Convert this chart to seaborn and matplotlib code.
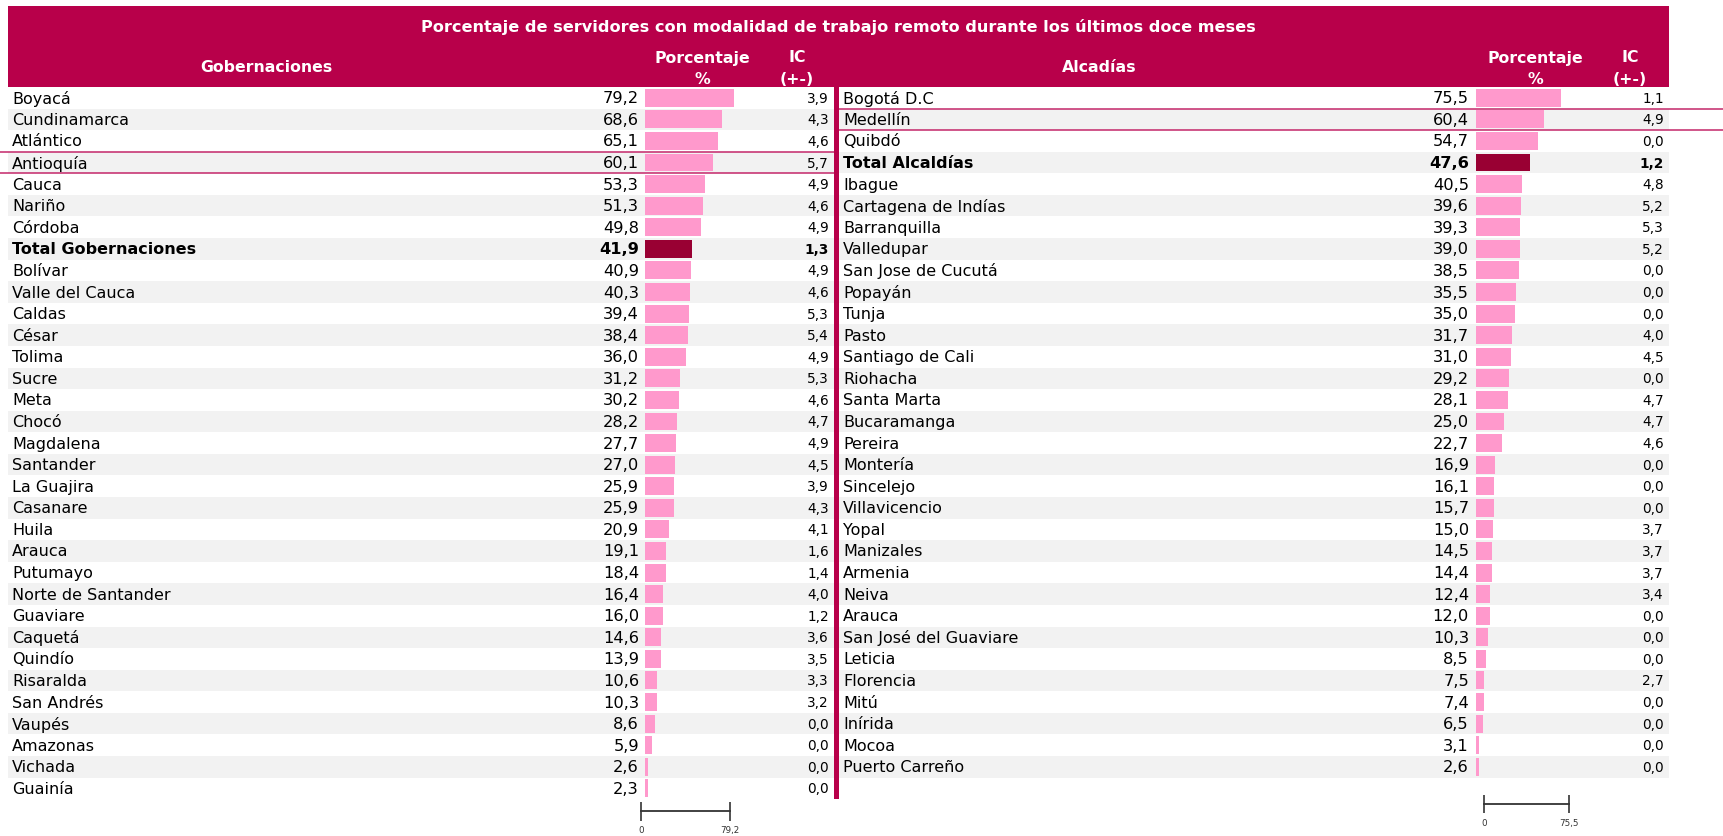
import matplotlib
matplotlib.use('Agg')
import matplotlib.pyplot as plt
import matplotlib.transforms as mtransforms
from matplotlib.patches import Rectangle
import seaborn as sns
import pandas as pd

W, H = 1723, 837

titulo = "Porcentaje de servidores con modalidad de trabajo remoto durante los últimos doce meses"

# Gobernaciones
gob_nombres = ["Boyacá", "Cundinamarca", "Atlántico", "Antioquía", "Cauca", "Nariño", "Córdoba",
               "Total Gobernaciones", "Bolívar", "Valle del Cauca", "Caldas", "César", "Tolima",
               "Sucre", "Meta", "Chocó", "Magdalena", "Santander", "La Guajira", "Casanare",
               "Huila", "Arauca", "Putumayo", "Norte de Santander", "Guaviare", "Caquetá",
               "Quindío", "Risaralda", "San Andrés", "Vaupés", "Amazonas", "Vichada", "Guainía"]
gob_pct = [79.2, 68.6, 65.1, 60.1, 53.3, 51.3, 49.8, 41.9, 40.9, 40.3, 39.4, 38.4, 36.0,
           31.2, 30.2, 28.2, 27.7, 27.0, 25.9, 25.9, 20.9, 19.1, 18.4, 16.4, 16.0, 14.6,
           13.9, 10.6, 10.3, 8.6, 5.9, 2.6, 2.3]
gob_ic = [3.9, 4.3, 4.6, 5.7, 4.9, 4.6, 4.9, 1.3, 4.9, 4.6, 5.3, 5.4, 4.9,
          5.3, 4.6, 4.7, 4.9, 4.5, 3.9, 4.3, 4.1, 1.6, 1.4, 4.0, 1.2, 3.6,
          3.5, 3.3, 3.2, 0.0, 0.0, 0.0, 0.0]

# Alcaldías
alc_nombres = ["Bogotá D.C", "Medellín", "Quibdó", "Total Alcaldías", "Ibague", "Cartagena de Indías",
               "Barranquilla", "Valledupar", "San Jose de Cucutá", "Popayán", "Tunja", "Pasto",
               "Santiago de Cali", "Riohacha", "Santa Marta", "Bucaramanga", "Pereira", "Montería",
               "Sincelejo", "Villavicencio", "Yopal", "Manizales", "Armenia", "Neiva", "Arauca",
               "San José del Guaviare", "Leticia", "Florencia", "Mitú", "Inírida", "Mocoa",
               "Puerto Carreño"]
alc_pct = [75.5, 60.4, 54.7, 47.6, 40.5, 39.6, 39.3, 39.0, 38.5, 35.5, 35.0, 31.7,
           31.0, 29.2, 28.1, 25.0, 22.7, 16.9, 16.1, 15.7, 15.0, 14.5, 14.4, 12.4, 12.0,
           10.3, 8.5, 7.5, 7.4, 6.5, 3.1, 2.6]
alc_ic = [1.1, 4.9, 0.0, 1.2, 4.8, 5.2, 5.3, 5.2, 0.0, 0.0, 0.0, 4.0,
          4.5, 0.0, 4.7, 4.7, 4.6, 0.0, 0.0, 0.0, 3.7, 3.7, 3.7, 3.4, 0.0,
          0.0, 0.0, 2.7, 0.0, 0.0, 0.0, 0.0]

COL_HEAD = '#b8004a'
COL_BAR = '#ff99cc'
COL_TOTAL = '#990033'
COL_BAND = '#f2f2f2'
COL_LINE = '#c4286a'

RH = 21.58   # alto de fila en px
TOP = 88


def rect(x0, y0, x1, y1):
    return [x0 / W, 1 - y1 / H, (x1 - x0) / W, (y1 - y0) / H]


def fx(x):
    return x / W


def fy(y):
    return 1 - y / H


def fmt(v):
    return f"{v:.1f}".replace('.', ',')


sns.set_style('white')
plt.rcParams['font.family'] = ['DejaVu Sans']

fig = plt.figure(figsize=(W / 100, H / 100), dpi=100)

# encabezado
axh = fig.add_axes(rect(8, 7, 1669, TOP))
axh.set_facecolor(COL_HEAD)
axh.set_xticks([])
axh.set_yticks([])
for s in axh.spines.values():
    s.set_visible(False)

hdr = dict(ha='center', va='center', color='white', fontweight='bold')
fig.text(fx(838), fy(27), titulo, fontsize=11.6, **hdr)
fig.text(fx(266), fy(68), "Gobernaciones", fontsize=11.3, **hdr)
fig.text(fx(1099), fy(68), "Alcadías", fontsize=11.3, **hdr)
for xp, xi in [(702, 797), (1535, 1630)]:
    fig.text(fx(xp), fy(58), "Porcentaje", fontsize=11.3, **hdr)
    fig.text(fx(xp), fy(79), "%", fontsize=11.3, **hdr)
    fig.text(fx(xi), fy(58), "IC", fontsize=11.3, **hdr)
    fig.text(fx(xi), fy(79), "(+-)", fontsize=11.3, **hdr)


def panel(nombres, pct, ic, x0, x1, xbar, xval, xic, total, resaltado, lx0, lx1,
          xesc, yesc, tlen):
    n = len(nombres)
    y1 = TOP + n * RH
    df = pd.DataFrame({'nombre': nombres, 'pct': pct, 'ic': ic})

    # fondo con filas alternas
    axb = fig.add_axes(rect(x0, TOP, x1, y1))
    axb.set_xlim(0, 1)
    axb.set_ylim(n - 0.5, -0.5)
    axb.axis('off')
    for i in range(1, n, 2):
        axb.axhspan(i - 0.5, i + 0.5, color=COL_BAND, lw=0)

    tr = mtransforms.blended_transform_factory(fig.transFigure, axb.transData)
    for i, row in df.iterrows():
        w = 'bold' if row['nombre'] == total else 'normal'
        axb.text(fx(x0 + 4), i, row['nombre'], transform=tr, ha='left', va='center',
                 fontsize=11.5, fontweight=w, color='black')
        axb.text(fx(xval), i, fmt(row['pct']), transform=tr, ha='right', va='center',
                 fontsize=11.7, fontweight=w, color='black')
        axb.text(fx(xic), i, fmt(row['ic']), transform=tr, ha='right', va='center',
                 fontsize=9.8, fontweight=w, color='black')

    # lineas de resaltado
    for nm in resaltado:
        i = nombres.index(nm)
        for yy in (i - 0.5, i + 0.5):
            axb.plot([fx(lx0), fx(lx1)], [yy, yy], transform=tr, color=COL_LINE,
                     lw=1.3, alpha=0.85, clip_on=False)

    # barras
    axr = fig.add_axes(rect(xbar, TOP, xbar + 90, y1))
    colores = [COL_TOTAL if nm == total else COL_BAR for nm in nombres]
    sns.barplot(data=df, x='pct', y='nombre', hue='nombre', palette=colores, legend=False,
                width=0.83, saturation=1, linewidth=0, ax=axr)
    axr.set_xlim(0, 80)
    axr.set_ylim(n - 0.5, -0.5)
    axr.axis('off')

    # escala
    mx = max(pct)
    axs = fig.add_axes(rect(xesc, yesc - 1, xesc + 90, yesc))
    axs.patch.set_alpha(0)
    axs.set_xlim(0, 80)
    axs.set_yticks([])
    for k in ['top', 'left', 'right']:
        axs.spines[k].set_visible(False)
    axs.spines['bottom'].set_bounds(0, mx)
    axs.spines['bottom'].set_linewidth(1.3)
    axs.spines['bottom'].set_color('#333333')
    axs.set_xticks([0, mx])
    axs.set_xticklabels(['0', fmt(mx)])
    axs.tick_params(axis='x', bottom=True, direction='inout', length=tlen * 0.72, width=1.2,
                    color='#333333', labelsize=6.3, labelcolor='#333333', pad=3.5)


panel(gob_nombres, gob_pct, gob_ic, 8, 834, 645, 639, 829, "Total Gobernaciones",
      ["Antioquía"], 0, 834, 641, 812, 19)
panel(alc_nombres, alc_pct, alc_ic, 839, 1669, 1476, 1469, 1664, "Total Alcaldías",
      ["Medellín"], 839, 1723, 1484, 805, 18)

# separador vertical
fig.add_artist(Rectangle((fx(834), fy(TOP + 33 * RH)), 5 / W, 33 * RH / H,
                         transform=fig.transFigure, color=COL_HEAD, lw=0))

fig.savefig('out.png', dpi=100)
